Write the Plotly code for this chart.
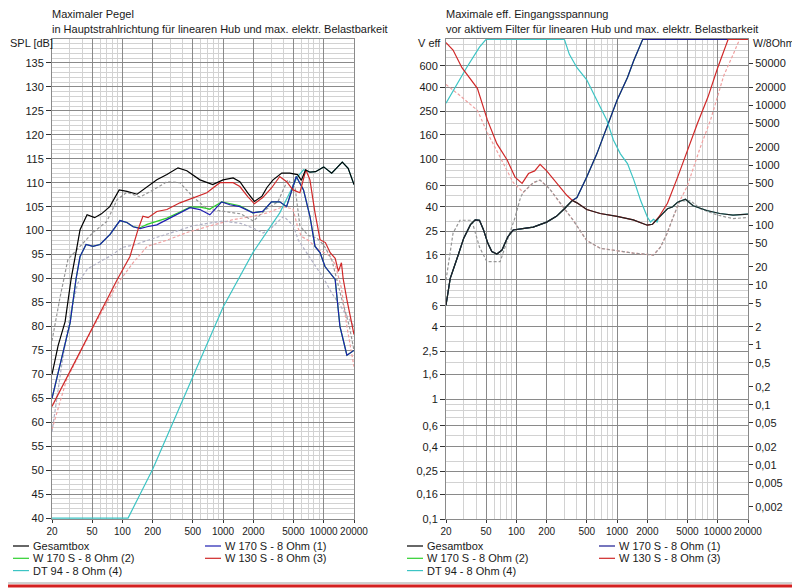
import numpy as np
import plotly.graph_objects as go

# ---------------- data: left panel, max SPL [dB] ----------------
FREQ_TOT = [20, 23, 27, 31, 35, 38, 44.6, 53, 62, 75, 93, 111, 140, 174, 220, 277, 357, 437, 590, 790,
            1000, 1260, 1470, 1760, 2050, 2440, 2730, 3140, 3830, 4600, 5500, 6000, 6600, 7300, 8300,
            10000, 12000, 15300, 17500, 20000]
SPL_TOT = [70, 76, 81, 90, 96, 100.2, 103.3, 102.7, 103.5, 105, 108.5, 108.2, 107.6, 109, 110.6, 111.7, 113.1,
           112.5, 110.6, 109.6, 110.6, 111, 110.2, 107.9, 106.1, 107.2, 109, 110.6, 112, 112, 111.7, 110.5,
           112.7, 112.2, 112.3, 113.3, 112, 114.3, 113, 109.6]

FREQ_W170 = [20, 25.8, 30.3, 34.6, 38, 43.6, 51, 60, 75.5, 94.6, 111, 128, 150, 176, 220, 277, 373, 470, 590,
             740, 970, 1170, 1470, 1980, 2480, 3030, 3660, 4280, 4960, 5340, 6300, 7300, 8200, 9200, 10300,
             13000, 14500, 17000, 20000]
SPL_W170_1 = [65, 74.8, 80.8, 89.8, 94.6, 97.1, 96.7, 97.1, 99.2, 102.1, 101.7, 100.8, 100.4, 100.8, 101.2,
              102.3, 103.7, 104.8, 104.4, 103.3, 106, 105.4, 105, 103.7, 104, 106, 106, 105, 109.2, 111.3,
              108.5, 103, 96.7, 95.4, 92.5, 89.8, 80, 74, 75]
SPL_W170_2 = [65, 74.8, 80.8, 89.8, 94.6, 97.1, 96.7, 97.1, 99.2, 102.1, 101.7, 100.8, 100.6, 101.3, 101.9,
              102.6, 103.9, 104.9, 104.9, 104.5, 106, 105.6, 105.2, 103.7, 104, 106, 106, 105, 109.2, 111.3,
              108.5, 103, 96.7, 95.4, 92.5, 89.8, 80, 74, 75]

FREQ_W130 = [20, 51, 89, 119, 143, 160, 180, 220, 277, 373, 505, 690, 930, 1260, 1470, 1760, 2050, 2480, 3030,
             3660, 4280, 4960, 5800, 6650, 7300, 8200, 9200, 10400, 11600, 13000, 14000, 15000, 15600, 17000,
             20000]
SPL_W130 = [63.3, 80, 89.8, 94.6, 100.2, 103, 102.7, 104, 104.4, 105.8, 106.9, 107.9, 110, 110, 109.2, 107.1,
            105.6, 106.9, 108.9, 111.3, 110.2, 108.5, 107.9, 112.7, 110.6, 103.7, 98.1, 97.5, 95.4, 94.2, 91.5,
            93.3, 90, 85.6, 78.3]

FREQ_DT94 = [20, 114, 200, 505, 1000, 1980, 2730, 3660, 4600, 5400, 6300, 7300, 8300, 10000, 12000, 15300,
             17500, 20000]
SPL_DT94 = [40, 40, 50.2, 69.6, 84, 95.4, 99.6, 103.7, 107.9, 111, 112.7, 112.2, 112.3, 113.3, 112, 114.3,
            113, 109.6]

# earlier variant, dashed
FREQ_TOT_OLD = [20, 24, 28.8, 38, 51, 70, 89, 111, 150, 202, 277, 373, 505, 700, 1000, 1500, 2000, 2700,
                3500, 4400, 5200, 5800, 7000, 8500, 10000, 12000, 15000, 18000, 20000]
SPL_TOT_OLD = [77, 86, 94, 96.7, 99.6, 101.9, 106.5, 108, 107, 108.5, 110.2, 110, 107, 104.5, 104, 103.5, 102,
               104.5, 106, 110.6, 109, 101, 99, 98.5, 97, 94, 86, 80, 75]
FREQ_W170_OLD = [20, 25, 30, 36, 45, 60, 80, 100, 130, 180, 250, 350, 500, 700, 1000, 1500, 2000, 2500, 3000,
                 4000, 5000, 5600, 6500, 8000, 10000, 12000, 15000, 20000]
SPL_W170_OLD = [58, 72, 82, 89, 92, 93.5, 95, 96.5, 97, 98, 99, 100, 101, 101.5, 102, 101.5, 100.5, 99.5, 100.5,
                103, 101, 98, 96, 93, 90, 87, 84, 80]
FREQ_W130_OLD = [20, 28, 50, 90, 128, 176, 277, 437, 690, 1260, 1980, 2730, 3970, 4960, 5500, 6000, 7000,
                 9000, 11000, 13000, 15000, 17000, 20000]
SPL_W130_OLD = [58.5, 69, 79.4, 89, 93.3, 96.7, 98, 99.6, 100.8, 102.3, 103, 103.7, 105, 104.5, 100.8, 98.8,
                98, 96, 95, 93, 88, 80, 71.6]

# ---------------- data: right panel, max input voltage [V eff] ----------------
FREQ_V_TOT = [20, 22, 26.5, 30, 35, 39, 43, 47, 52, 57, 64, 72, 82, 93, 120, 147, 200, 250, 300, 360, 400,
              500, 680, 1000, 1450, 2000, 2250, 2590, 3170, 3550, 3990, 4780, 5700, 7800, 10500, 14200, 20000]
V_TOT = [6.06, 10.1, 16, 22, 28.5, 31.2, 31, 26, 20, 17, 16.2, 17.5, 22.5, 25.7, 26.5, 27.2, 29.9, 33.4, 38.7,
         45.4, 43.3, 38.1, 35.3, 33.4, 31.2, 28.2, 28.7, 32.7, 38.7, 40, 43.8, 46.4, 41, 37.4, 35.3, 34.2, 34.9]

FREQ_V_W170 = [20, 22, 26.5, 30, 35, 39, 43, 47, 52, 57, 64, 72, 82, 93, 120, 147, 200, 250, 300, 360, 400,
               500, 630, 790, 1000, 1270, 1470, 1800, 20000]
V_W170 = [6.06, 10.1, 16, 22, 28.5, 31.2, 31, 26, 20, 17, 16.2, 17.5, 22.5, 25.7, 26.5, 27.2, 29.9, 33.4, 38.7,
          45.4, 48, 71, 111, 184, 310, 480, 670, 1000, 1000]

FREQ_V_W130 = [20, 23.5, 28.8, 35, 41, 51.5, 64, 81, 97, 114, 132, 152, 172, 200, 252, 317, 360, 400, 500, 680,
               1000, 1450, 2000, 2250, 2600, 3170, 4000, 5000, 6300, 8000, 10000, 12700, 20000]
V_W130 = [940, 815, 580, 470, 390, 213, 135, 98.6, 71, 63, 76, 80, 90.8, 80, 63, 50.1, 45.4, 43.3, 38.1, 35.3,
          33.4, 31.2, 28.2, 28.7, 33, 43, 71, 120, 200, 330, 580, 1000, 1000]

FREQ_V_DT94 = [20, 32, 43, 50, 300, 336, 400, 500, 630, 790, 920, 1080, 1270, 1470, 1720, 2000, 2150, 2300,
               2500, 2590, 3170, 3550, 3990, 4780, 5700, 7800, 10500, 14200, 20000]
V_DT94 = [293, 580, 860, 1000, 1000, 750, 580, 460, 310, 213, 145, 111, 92, 67, 45, 33, 30, 31.6, 30, 32.7,
          38.7, 40, 43.8, 46.4, 41, 37.4, 35.3, 34.2, 34.9]

FREQ_V_TOT_OLD = [20, 23.5, 27.5, 36, 43, 51, 69, 86, 97, 110, 117, 148, 172, 213, 290, 367, 500, 680, 1450,
                  2300, 2700, 3150, 3600, 4200, 5400, 6700, 10000, 14200, 20000]
V_TOT_OLD = [9.8, 24.2, 31, 31, 18.5, 14, 14, 24.2, 32.7, 48, 53, 64, 67, 57, 40, 31, 21, 18.1, 16.5, 15.9,
             18.5, 24.2, 32.7, 45, 45, 38.7, 34.2, 32, 32.7]
FREQ_V_W130_OLD = [20, 27.5, 41, 52, 69, 93, 117, 148, 172, 213, 290, 367, 500, 680, 1450, 2300, 2700, 3150,
                   3600, 4200, 5000, 6700, 8500, 10000, 11500, 14200, 16500, 20000]
V_W130_OLD = [420, 340, 256, 164, 104, 64, 53, 64, 67, 57, 40, 31, 21, 18.1, 16.5, 15.9, 18.5, 24.2, 32.7, 45,
              60, 125, 213, 330, 500, 745, 1000, 1000]

# axis ticks
F_TICKS = [20, 50, 100, 200, 500, 1000, 2000, 5000, 10000, 20000]
SPL_TICKS = list(range(40, 140, 5))
V_TICKS = [0.1, 0.16, 0.25, 0.4, 0.6, 1, 1.6, 2.5, 4, 6, 10, 16, 25, 40, 60, 100, 160, 250, 400, 600]
W_TICKS = [0.002, 0.005, 0.01, 0.02, 0.05, 0.1, 0.2, 0.5, 1, 2, 5, 10, 20, 50, 100, 200, 500, 1000, 2000,
           5000, 10000, 20000, 50000]

SERIES_NAMES = ["Gesamtbox", "W 170 S - 8 Ohm (1)", "W 170 S - 8 Ohm (2)", "W 130 S - 8 Ohm (3)",
                "DT 94 - 8 Ohm (4)"]
COLORS = {"tot": "#000000", "w170a": "#1e1eb0", "w170b": "#2ed02e", "w130": "#d02828", "dt94": "#3cc4c4"}
GRID_MAJ = "#8a8a8a"
GRID_MIN = "#d2d2d2"
FONT = "Liberation Sans"
DASH = "3px,2px"

W = 800
H = 588
OFF = 8  # the page puts the figure 8px in from the top left corner


def sx(x):
    # screen pixel -> paper fraction
    return (x - OFF) / W


def sy(y):
    return 1 - (y - OFF) / H


def de(v):
    s = ("%g" % v)
    return s.replace(".", ",")


def minor_log(lo, hi):
    out = []
    for k in range(-4, 6):
        for n in range(1, 10):
            v = n * 10.0 ** k
            if lo <= v <= hi:
                out.append(v)
    return out


fig = go.Figure()


def add(f, v, color, name, xa, ya, dash=None, width=1.2):
    fig.add_trace(go.Scatter(x=f, y=v, mode="lines", name=name, showlegend=False,
                             line=dict(color=color, width=width, dash=dash),
                             xaxis=xa, yaxis=ya))


# left panel
add(FREQ_W130_OLD, SPL_W130_OLD, "#f0a0a0", "W 130 S alt", "x", "y", DASH)
add(FREQ_W170_OLD, SPL_W170_OLD, "#b0b0c4", "W 170 S alt", "x", "y", DASH)
add(FREQ_TOT_OLD, SPL_TOT_OLD, "#969696", "Gesamtbox alt", "x", "y", DASH)
add(FREQ_DT94, SPL_DT94, COLORS["dt94"], SERIES_NAMES[4], "x", "y")
add(FREQ_W170, SPL_W170_2, COLORS["w170b"], SERIES_NAMES[2], "x", "y")
add(FREQ_W170, SPL_W170_1, COLORS["w170a"], SERIES_NAMES[1], "x", "y")
add(FREQ_W130, SPL_W130, COLORS["w130"], SERIES_NAMES[3], "x", "y")
add(FREQ_TOT, SPL_TOT, COLORS["tot"], SERIES_NAMES[0], "x", "y")

# right panel
add(FREQ_V_W130_OLD, V_W130_OLD, "#f0a0a0", "W 130 S alt", "x2", "y2", DASH)
add(FREQ_V_TOT_OLD, V_TOT_OLD, "#969696", "Gesamtbox alt", "x2", "y2", DASH)
add(FREQ_V_W170, V_W170, COLORS["w170b"], SERIES_NAMES[2], "x2", "y2")
add(FREQ_V_W170, V_W170, "#1a1a90", SERIES_NAMES[1], "x2", "y2")
add(FREQ_V_DT94, V_DT94, COLORS["dt94"], SERIES_NAMES[4], "x2", "y2")
add(FREQ_V_W130, V_W130, COLORS["w130"], SERIES_NAMES[3], "x2", "y2")
add(FREQ_V_TOT, V_TOT, "#222222", SERIES_NAMES[0], "x2", "y2")

py0, py1 = sy(519), sy(39)

xcommon = dict(type="log", range=[np.log10(20), np.log10(20000)], tickvals=F_TICKS,
               ticktext=[str(t) for t in F_TICKS], tickangle=0,
               showgrid=True, gridcolor=GRID_MAJ, gridwidth=1,
               minor=dict(tickvals=minor_log(20, 20000), showgrid=True, gridcolor=GRID_MIN, ticks=""),
               showline=True, linecolor=GRID_MAJ, mirror=True, zeroline=False,
               ticks="outside", ticklen=3, tickcolor="#333333",
               tickfont=dict(size=10, color="#1a1a1a"))

fig.update_layout(
    width=W, height=H,
    margin=dict(l=0, r=0, t=0, b=0, autoexpand=False),
    paper_bgcolor="white", plot_bgcolor="white",
    font=dict(family=FONT, size=11, color="#1a1a1a"),
    xaxis=dict(domain=[sx(52), sx(354)], anchor="y", **xcommon),
    xaxis2=dict(domain=[sx(446), sx(748)], anchor="y2", **xcommon),
    yaxis=dict(domain=[py0, py1], anchor="x", range=[39.8, 140], tickvals=SPL_TICKS,
               showgrid=True, gridcolor=GRID_MAJ,
               minor=dict(dtick=1, showgrid=True, gridcolor=GRID_MIN, ticks=""),
               showline=True, linecolor=GRID_MAJ, mirror=True, zeroline=False,
               ticks="outside", ticklen=5, tickcolor="#333333",
               tickfont=dict(size=11, color="#1a1a1a")),
    yaxis2=dict(domain=[py0, py1], anchor="x2", type="log", range=[-1, 3.003], tickvals=V_TICKS,
                ticktext=[de(v) for v in V_TICKS], showgrid=True, gridcolor=GRID_MAJ,
                minor=dict(tickvals=minor_log(0.1, 1000), showgrid=True, gridcolor=GRID_MIN, ticks=""),
                showline=True, linecolor=GRID_MAJ, mirror=True, zeroline=False,
                ticks="outside", ticklen=5, tickcolor="#333333",
                tickfont=dict(size=11, color="#1a1a1a")),
    yaxis3=dict(overlaying="y2", anchor="x2", side="right", type="log",
                range=[np.log10(0.1 ** 2 / 8), np.log10(1000.0 ** 2 / 8) + 0.006],
                tickvals=W_TICKS, ticktext=[de(v) for v in W_TICKS], showgrid=False,
                ticks="outside", ticklen=4, tickcolor="#333333", showline=False, zeroline=False,
                tickfont=dict(size=11, color="#1a1a1a")),
)

# dummy trace so the W/8Ohm axis is drawn
fig.add_trace(go.Scatter(x=[20], y=[0.01], mode="lines", showlegend=False, hoverinfo="skip",
                         line=dict(width=0), xaxis="x2", yaxis="y3"))


def note(text, x, y, anchor="left", size=11):
    fig.add_annotation(text=text, x=sx(x), y=sy(y), xref="paper", yref="paper",
                       xanchor=anchor, yanchor="middle", showarrow=False,
                       font=dict(size=size, family=FONT, color="#1a1a1a"))


note("Maximaler Pegel", 50, 14)
note("in Hauptstrahlrichtung für linearen Hub und max. elektr. Belastbarkeit", 50, 29)
note("SPL [dB]", 8, 43)
note("Maximale eff. Eingangsspannung", 444, 14)
note("vor aktivem Filter für linearen Hub und max. elektr. Belastbarkeit", 444, 29)
note("V eff", 416, 43)
note("W/8Ohm", 751, 43, size=10.5)

# legends under both panels: swatch line + name
legend_rows = [(0, "tot", 0, 0), (1, "w170a", 1, 0), (2, "w170b", 0, 1), (3, "w130", 1, 1), (4, "dt94", 0, 2)]
for x_col1, x_col2, dark_blue in [(13, 205, COLORS["w170a"]), (407, 599, "#1a1a90")]:
    for idx, key, col, row in legend_rows:
        c = COLORS[key] if key != "w170a" else dark_blue
        xx = x_col1 if col == 0 else x_col2
        yy = 546 + 12.3 * row
        fig.add_shape(type="line", xref="paper", yref="paper", x0=sx(xx), x1=sx(xx + 16),
                      y0=sy(yy), y1=sy(yy), line=dict(color=c, width=1.2))
        note(SERIES_NAMES[idx], xx + 18, yy)

# window frame (right and bottom edges, the rest lies in the page margin)
fig.add_shape(type="line", xref="paper", yref="paper", x0=sx(798.5), x1=sx(798.5), y0=sy(586), y1=sy(8),
              line=dict(color="#d42020", width=3))
fig.add_shape(type="line", xref="paper", yref="paper", x0=sx(8), x1=sx(800), y0=sy(586), y1=sy(586),
              line=dict(color="#d42020", width=3))
fig.add_shape(type="line", xref="paper", yref="paper", x0=sx(8), x1=sx(797), y0=sy(583), y1=sy(583),
              line=dict(color="#a0a0a0", width=1))

fig.write_html("out.html")
